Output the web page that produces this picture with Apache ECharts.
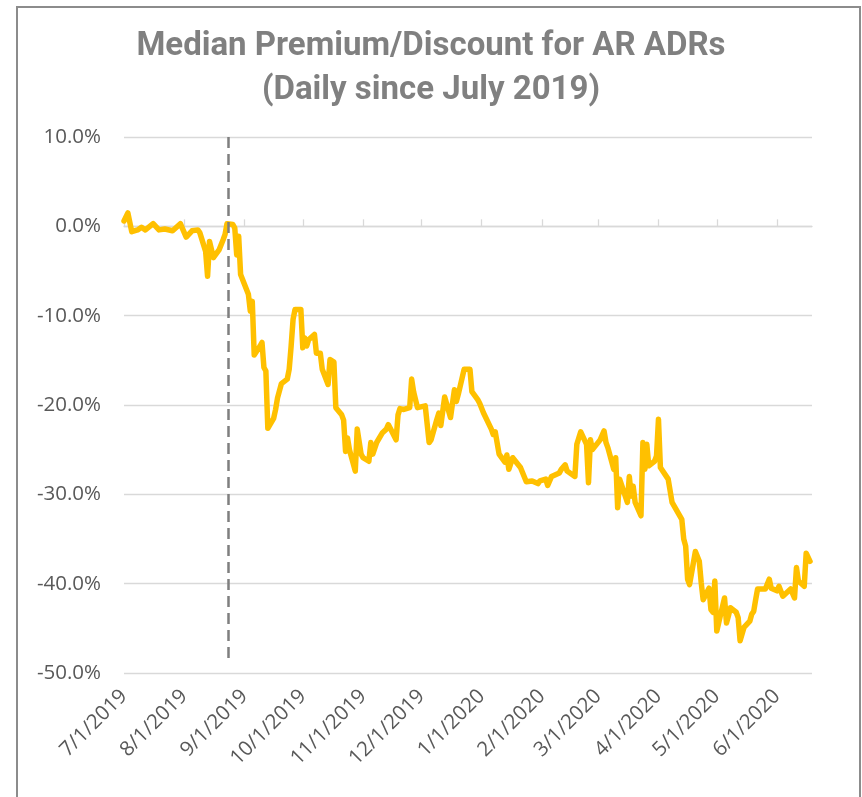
<!DOCTYPE html>
<html>
<head>
<meta charset="utf-8">
<script src="https://cdn.jsdelivr.net/npm/echarts@6/dist/echarts.min.js"></script>
<style>
html,body{margin:0;padding:0;background:#fff;}
#chart{width:862px;height:797px;}
</style>
</head>
<body>
<div id="chart"></div>
<script>
const titleText = 'Median Premium/Discount for AR ADRs\n(Daily since July 2019)';

const dates = [
'2019-07-01','2019-07-03','2019-07-05','2019-07-08','2019-07-10','2019-07-12','2019-07-16','2019-07-19','2019-07-22','2019-07-26','2019-07-30',
'2019-08-02','2019-08-05','2019-08-08','2019-08-09','2019-08-12','2019-08-13','2019-08-14','2019-08-16','2019-08-19','2019-08-21','2019-08-22','2019-08-23','2019-08-26','2019-08-27','2019-08-28','2019-08-29','2019-08-30',
'2019-09-03','2019-09-04','2019-09-05','2019-09-06','2019-09-09','2019-09-10','2019-09-11','2019-09-12','2019-09-13','2019-09-16','2019-09-17','2019-09-18','2019-09-19','2019-09-20','2019-09-23','2019-09-24','2019-09-25','2019-09-26','2019-09-27','2019-09-30',
'2019-10-01','2019-10-02','2019-10-03','2019-10-04','2019-10-07','2019-10-08','2019-10-10','2019-10-11','2019-10-14','2019-10-15','2019-10-17','2019-10-18','2019-10-21','2019-10-22','2019-10-23','2019-10-24','2019-10-25','2019-10-28','2019-10-29','2019-10-31',
'2019-11-01','2019-11-04','2019-11-05','2019-11-06','2019-11-08','2019-11-11','2019-11-13','2019-11-14','2019-11-15','2019-11-18','2019-11-19','2019-11-20','2019-11-22','2019-11-25','2019-11-26','2019-11-27','2019-11-29',
'2019-12-03','2019-12-05','2019-12-06','2019-12-09','2019-12-10','2019-12-11','2019-12-13','2019-12-16','2019-12-18','2019-12-19','2019-12-20','2019-12-23','2019-12-26','2019-12-27','2019-12-30','2019-12-31',
'2020-01-02','2020-01-03','2020-01-06','2020-01-07','2020-01-08','2020-01-10','2020-01-13','2020-01-14','2020-01-15','2020-01-17','2020-01-21','2020-01-22','2020-01-24','2020-01-27','2020-01-28','2020-01-30','2020-01-31',
'2020-02-03','2020-02-04','2020-02-06','2020-02-10','2020-02-11','2020-02-13','2020-02-14','2020-02-18','2020-02-19','2020-02-21','2020-02-24','2020-02-25','2020-02-26','2020-02-27',
'2020-03-02','2020-03-04','2020-03-05','2020-03-06','2020-03-09','2020-03-10','2020-03-11','2020-03-12','2020-03-16','2020-03-17','2020-03-18','2020-03-19','2020-03-20','2020-03-23','2020-03-24','2020-03-25','2020-03-26','2020-03-27','2020-03-30','2020-03-31',
'2020-04-01','2020-04-02','2020-04-03','2020-04-06','2020-04-07','2020-04-08','2020-04-13','2020-04-14','2020-04-15','2020-04-16','2020-04-17','2020-04-20','2020-04-21','2020-04-22','2020-04-23','2020-04-24','2020-04-27','2020-04-28','2020-04-29','2020-04-30',
'2020-05-01','2020-05-04','2020-05-05','2020-05-06','2020-05-07','2020-05-08','2020-05-11','2020-05-12','2020-05-13','2020-05-15','2020-05-18','2020-05-19','2020-05-20','2020-05-21','2020-05-22','2020-05-26','2020-05-27','2020-05-28','2020-05-29',
'2020-06-01','2020-06-02','2020-06-03','2020-06-04','2020-06-08','2020-06-09','2020-06-10','2020-06-11','2020-06-12','2020-06-15','2020-06-16','2020-06-17','2020-06-18'
];

const premium = [
0.6,1.5,-0.6,-0.4,-0.1,-0.4,0.3,-0.4,-0.3,-0.5,0.3,
-1.2,-0.5,-0.4,-0.7,-2.8,-5.6,-1.7,-3.5,-2.6,-1.5,-0.9,0.3,0.2,-0.2,-3.2,-1.1,-5.4,
-7.6,-9.5,-8.4,-14.4,-13.4,-13.0,-15.8,-16.2,-22.6,-21.5,-20.5,-19.2,-19.0,-17.6,-17.1,-16.0,-13.4,-10.4,-9.3,-9.3,
-13.6,-12.5,-13.4,-12.7,-12.1,-14.2,-14.2,-16.0,-17.7,-14.9,-15.2,-20.3,-21.1,-21.7,-25.2,-23.7,-25.0,-27.4,-22.7,-25.5,
-25.9,-26.3,-24.2,-25.5,-24.2,-23.1,-22.7,-22.2,-22.6,-23.9,-21.1,-20.4,-20.5,-20.3,-17.1,-18.5,-20.3,
-20.1,-24.2,-23.9,-21.6,-20.9,-22.3,-19.1,-21.4,-18.3,-19.6,-18.8,-16.0,-16.0,-18.5,-19.4,-19.8,
-20.9,-21.1,-22.7,-23.3,-23.0,-25.5,-26.4,-25.6,-27.2,-25.9,-27.0,-27.2,-28.6,-28.5,-28.3,-28.8,-28.5,
-28.3,-29.0,-28.0,-27.6,-27.2,-26.7,-27.4,-28.0,-24.4,-23.0,-24.4,-28.7,-23.9,-25.0,
-23.9,-22.9,-24.2,-24.8,-27.2,-25.9,-31.5,-28.3,-30.9,-28.0,-30.2,-29.1,-30.9,-32.4,-24.2,-27.2,-24.4,-26.8,-26.3,-25.7,
-21.6,-27.0,-27.2,-28.3,-28.3,-30.9,-32.8,-35.0,-35.8,-39.5,-40.1,-36.4,-36.4,-37.5,-39.9,-41.8,-40.5,-42.9,-43.2,-39.7,
-45.3,-42.5,-41.6,-44.4,-43.6,-42.7,-43.2,-43.8,-46.4,-44.9,-44.2,-43.4,-43.1,-41.8,-40.6,-40.6,-40.8,-39.5,-40.5,
-40.8,-40.3,-40.1,-41.4,-40.6,-40.8,-41.6,-38.2,-39.7,-40.3,-36.6,-36.6,-37.5
];

const tickDates = ['2019-07-01','2019-08-01','2019-09-01','2019-10-01','2019-11-01','2019-12-01','2020-01-01','2020-02-01','2020-03-01','2020-04-01','2020-05-01','2020-06-01'];
const tickLabels = ['7/1/2019','8/1/2019','9/1/2019','10/1/2019','11/1/2019','12/1/2019','1/1/2020','2/1/2020','3/1/2020','4/1/2020','5/1/2020','6/1/2020'];
const xStart = '2019-07-01';
const xEnd = '2020-06-19';
const eventDate = '2019-08-23';
const eventRange = [10, -49];
const yTicks = [-50, -40, -30, -20, -10, 0, 10];

const DAY = 86400000;
function ts(s) { const p = s.split('-').map(Number); return Date.UTC(p[0], p[1] - 1, p[2]); }
const tickTs = tickDates.map(ts);
const seriesData = dates.map((d, i) => [ts(d), premium[i]]);
const eventTs = ts(eventDate) + DAY / 2;

const chart = echarts.init(document.getElementById('chart'), null, { renderer: 'canvas' });
const labelColor = '#595959';
const gridColor = '#d9d9d9';

chart.setOption({
  animation: false,
  backgroundColor: '#ffffff',
  title: {
    text: titleText,
    left: 'center',
    top: 20,
    textStyle: { fontFamily: 'Roboto', fontWeight: 'bold', fontSize: 33, color: '#808080', lineHeight: 44 }
  },
  graphic: [{
    type: 'rect', silent: true, z: 100,
    shape: { x: 17, y: 7, width: 843, height: 830 },
    style: { fill: 'none', stroke: '#8c8c8c', lineWidth: 2 }
  }],
  grid: { left: 124, right: 50, top: 137, bottom: 124 },
  xAxis: [{
    type: 'value',
    min: ts(xStart),
    max: ts(xEnd),
    axisLine: { show: false, onZero: false },
    axisTick: { show: false },
    splitLine: { show: false },
    axisLabel: {
      customValues: tickTs,
      rotate: 45,
      margin: 20,
      color: labelColor,
      fontFamily: 'Open Sans',
      fontSize: 20.5,
      formatter: function (v) { const i = tickTs.indexOf(v); return i >= 0 ? tickLabels[i] : ''; }
    }
  }, {
    type: 'value',
    min: ts(xStart),
    max: ts(xEnd),
    position: 'bottom',
    axisLine: { show: true, onZero: true, lineStyle: { color: gridColor, width: 1.3 } },
    axisTick: { show: true, inside: true, length: 7, customValues: tickTs, lineStyle: { color: gridColor, width: 1.3 } },
    axisLabel: { show: false },
    splitLine: { show: false }
  }],
  yAxis: {
    type: 'value',
    min: yTicks[0],
    max: yTicks[yTicks.length - 1],
    interval: 10,
    axisLine: { show: false },
    axisTick: { show: false },
    splitLine: { show: true, lineStyle: { color: gridColor, width: 1.3 } },
    axisLabel: {
      margin: 23,
      color: labelColor,
      fontFamily: 'Open Sans',
      fontSize: 20.5,
      formatter: function (v) { return v.toFixed(1) + '%'; }
    }
  },
  series: [{
    type: 'line',
    xAxisIndex: 0,
    data: seriesData,
    showSymbol: false,
    symbol: 'none',
    lineStyle: { color: '#FFC000', width: 5.5, join: 'round', cap: 'round' },
    itemStyle: { color: '#FFC000' },
    z: 3,
    markLine: {
      silent: true,
      symbol: ['none', 'none'],
      label: { show: false },
      lineStyle: { color: '#7f7f7f', width: 2.5, type: [11, 6] },
      data: [[{ coord: [eventTs, eventRange[0]] }, { coord: [eventTs, eventRange[1]] }]]
    }
  }]
});
</script>
</body>
</html>
